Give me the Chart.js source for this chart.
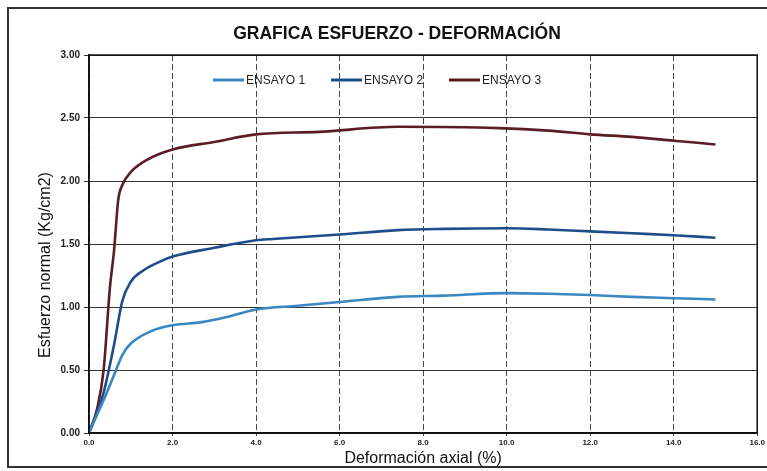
<!DOCTYPE html>
<html>
<head>
<meta charset="utf-8">
<title>Grafica esfuerzo - deformación</title>
<script src="https://cdn.jsdelivr.net/npm/chart.js@4"></script>
<style>
    html, body { margin: 0; padding: 0; background: #fff; }
    #wrap { width: 767px; height: 471px; }
</style>
</head>
<body>
<div id="wrap"><canvas id="grafica"></canvas></div>
<script>
// Deformación axial (%) y esfuerzo normal (Kg/cm2) por ensayo
const ensayo1X = [0, 0.2, 0.4, 0.6, 0.8, 1.0, 1.5, 2.0, 2.7, 3.3, 4.0, 5.0, 6.0, 7.4, 8.5, 10.0, 11.0, 12.0, 13.0, 14.0, 15.0];
const ensayo1Y = [0, 0.15, 0.30, 0.46, 0.62, 0.71, 0.81, 0.855, 0.88, 0.92, 0.98, 1.01, 1.04, 1.08, 1.09, 1.11, 1.105, 1.095, 1.08, 1.07, 1.06];

const ensayo2X = [0, 0.2, 0.35, 0.6, 0.8, 1.0, 1.3, 1.7, 2.0, 3.0, 4.0, 4.4, 6.0, 7.4, 8.5, 10.0, 11.0, 12.0, 13.0, 14.0, 15.0];
const ensayo2Y = [0, 0.17, 0.32, 0.70, 1.05, 1.20, 1.29, 1.36, 1.40, 1.47, 1.53, 1.54, 1.575, 1.61, 1.62, 1.625, 1.615, 1.60, 1.585, 1.57, 1.55];

const ensayo3X = [0, 0.2, 0.35, 0.5, 0.6, 0.7, 0.8, 1.0, 1.4, 2.0, 3.0, 4.0, 5.5, 7.4, 9.8, 11.0, 12.0, 13.0, 14.0, 15.0];
const ensayo3Y = [0, 0.2, 0.5, 1.15, 1.45, 1.85, 1.97, 2.07, 2.17, 2.25, 2.31, 2.37, 2.39, 2.43, 2.42, 2.40, 2.37, 2.35, 2.32, 2.29];

const nombres = ['ENSAYO 1', 'ENSAYO 2', 'ENSAYO 3'];
const colores = ['#3a87c2', '#1f4d8c', '#5c1c26'];

const fuente = "'Liberation Sans Narrow', 'Arial Narrow', Arial, sans-serif";

function puntos(xs, ys) {
    return xs.map((x, i) => ({ x: x, y: ys[i] }));
}

// Marco exterior, borde del area de trazado y titulo del eje Y
const marcoPlugin = {
    id: 'marco',
    beforeDraw(chart) {
        const ctx = chart.ctx;
        ctx.save();
        ctx.fillStyle = '#fff';
        ctx.fillRect(0, 0, chart.width, chart.height);
        ctx.strokeStyle = '#333';
        ctx.lineWidth = 2;
        ctx.strokeRect(8, 8, chart.width + 20, chart.height - 12);
        ctx.restore();
    },
    afterDatasetsDraw(chart) {
        const a = chart.chartArea;
        const ctx = chart.ctx;
        ctx.save();
        ctx.strokeStyle = '#111';
        ctx.lineWidth = 1.5;
        ctx.strokeRect(a.left, a.top, a.right - a.left, a.bottom - a.top);

        ctx.translate(46, 265);
        ctx.rotate(-Math.PI / 2);
        ctx.font = '16px ' + fuente;
        ctx.fillStyle = '#111';
        ctx.textAlign = 'center';
        ctx.textBaseline = 'middle';
        ctx.fillText('Esfuerzo normal (Kg/cm2)', 0, 0);
        ctx.restore();
    }
};

// Leyenda dibujada dentro del area de trazado
const leyendaPlugin = {
    id: 'leyenda',
    afterDatasetsDraw(chart) {
        const a = chart.chartArea;
        const ctx = chart.ctx;
        const y = a.top + 25;
        ctx.save();
        ctx.font = '12px ' + fuente;
        ctx.textBaseline = 'middle';
        chart.data.datasets.forEach((ds, i) => {
            const x0 = a.left + 124 + i * 118;
            ctx.strokeStyle = ds.borderColor;
            ctx.lineWidth = 3;
            ctx.beginPath();
            ctx.moveTo(x0, y);
            ctx.lineTo(x0 + 31, y);
            ctx.stroke();
            ctx.fillStyle = '#222';
            ctx.fillText(ds.label, x0 + 33, y + 1);
        });
        ctx.restore();
    }
};

const series = [
    puntos(ensayo1X, ensayo1Y),
    puntos(ensayo2X, ensayo2Y),
    puntos(ensayo3X, ensayo3Y)
];

new Chart(document.getElementById('grafica'), {
    type: 'scatter',
    data: {
        datasets: series.map((d, i) => ({
            label: nombres[i],
            data: d,
            showLine: true,
            borderColor: colores[i],
            backgroundColor: colores[i],
            borderWidth: 2.6,
            pointRadius: 0,
            cubicInterpolationMode: 'monotone'
        }))
    },
    options: {
        responsive: true,
        maintainAspectRatio: false,
        animation: false,
        layout: { padding: { left: 36, right: 9, top: 0, bottom: 0 } },
        plugins: {
            legend: { display: false },
            tooltip: { enabled: false },
            title: {
                display: true,
                text: 'GRAFICA ESFUERZO - DEFORMACIÓN',
                color: '#111',
                font: { family: fuente, size: 17.5, weight: 'bold' },
                padding: { top: 24, bottom: 10 }
            }
        },
        scales: {
            x: {
                type: 'linear',
                min: 0,
                max: 16,
                afterFit: (s) => { s.height = 38; },
                ticks: {
                    stepSize: 2,
                    color: '#222',
                    padding: 2,
                    maxRotation: 0,
                    font: { family: fuente, size: 8, weight: 'bold' },
                    callback: (v) => v.toFixed(1)
                },
                grid: { color: '#444', lineWidth: 1, tickLength: 3 },
                border: { color: '#111', width: 1.5, dash: [6, 3] },
                title: {
                    display: true,
                    text: 'Deformación axial (%)',
                    color: '#111',
                    font: { family: fuente, size: 16 },
                    padding: { top: 0, bottom: 3 }
                }
            },
            y: {
                min: 0,
                max: 3,
                afterFit: (s) => { s.width = 53; },
                ticks: {
                    stepSize: 0.5,
                    color: '#222',
                    padding: 4,
                    font: { family: fuente, size: 10, weight: 'bold' },
                    callback: (v) => v.toFixed(2)
                },
                grid: { color: '#333', lineWidth: 1, tickLength: 5 },
                border: { color: '#111', width: 1.5 }
            }
        }
    },
    plugins: [marcoPlugin, leyendaPlugin]
});
</script>
</body>
</html>
